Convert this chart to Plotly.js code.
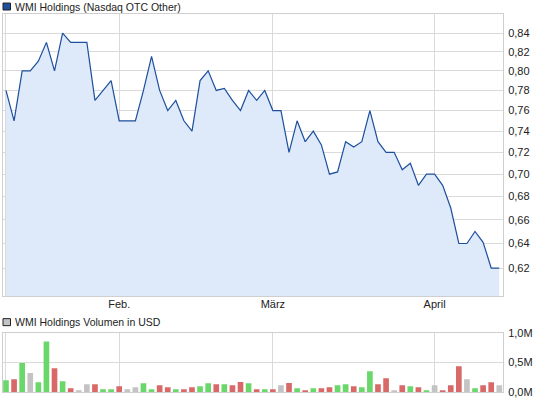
<!DOCTYPE html>
<html>
<head>
<meta charset="utf-8">
<script src="https://cdn.plot.ly/plotly-3.0.1.min.js"></script>
<style>
  body { margin: 0; background: #fff; }
  #chart { width: 545px; height: 401px; }
</style>
</head>
<body>
<div id="chart"></div>
<script>
const days = [
  '2013-01-11', '2013-01-14', '2013-01-15', '2013-01-16', '2013-01-17', '2013-01-18', '2013-01-22',
  '2013-01-23', '2013-01-24', '2013-01-25', '2013-01-28', '2013-01-29', '2013-01-30', '2013-01-31',
  '2013-02-01', '2013-02-04', '2013-02-05', '2013-02-06', '2013-02-07', '2013-02-08', '2013-02-11',
  '2013-02-12', '2013-02-13', '2013-02-14', '2013-02-15', '2013-02-19', '2013-02-20', '2013-02-21',
  '2013-02-22', '2013-02-25', '2013-02-26', '2013-02-27', '2013-02-28',
  '2013-03-01', '2013-03-04', '2013-03-05', '2013-03-06', '2013-03-07', '2013-03-08', '2013-03-11',
  '2013-03-12', '2013-03-13', '2013-03-14', '2013-03-15', '2013-03-18', '2013-03-19', '2013-03-20',
  '2013-03-21', '2013-03-22', '2013-03-25', '2013-03-26', '2013-03-27', '2013-03-28',
  '2013-04-01', '2013-04-02', '2013-04-03', '2013-04-04', '2013-04-05', '2013-04-08', '2013-04-09',
  '2013-04-10', '2013-04-11',
];

const price = [
  0.78, 0.75, 0.80, 0.80, 0.81, 0.83, 0.80, 0.84, 0.83, 0.83, 0.83, 0.77, 0.78, 0.79,
  0.75, 0.75, 0.75, 0.78, 0.815, 0.78, 0.76, 0.77, 0.75, 0.74, 0.79, 0.80, 0.78, 0.782,
  0.77, 0.76, 0.78, 0.77, 0.78,
  0.76, 0.76, 0.72, 0.75, 0.73, 0.74, 0.727, 0.70, 0.702, 0.73, 0.725, 0.73, 0.76, 0.73,
  0.72, 0.72, 0.704, 0.71, 0.69, 0.70,
  0.70, 0.69, 0.67, 0.64, 0.64, 0.65, 0.641, 0.62, 0.62,
];

const volume = [
  200000, 215000, 490000, 320000, 165000, 850000, 400000, 180000, 62000, 30000, 130000, 130000, 45000, 45000,
  96000, 45000, 80000, 147000, 45000, 113000, 80000, 45000, 45000, 80000, 96000, 147000, 130000, 130000,
  113000, 170000, 147000, 45000, 45000,
  45000, 113000, 150000, 62000, 30000, 62000, 62000, 80000, 113000, 130000, 96000, 80000, 350000, 130000,
  230000, 30000, 113000, 96000, 80000, 30000,
  113000, 30000, 113000, 435000, 215000, 62000, 113000, 164000, 113000,
];

const priceTicks = [0.62, 0.64, 0.66, 0.68, 0.70, 0.72, 0.74, 0.76, 0.78, 0.80, 0.82, 0.84];
const monthTicks = ['2013-01-11', '2013-02-01', '2013-03-01', '2013-04-01'];
const monthLabels = ['', 'Feb.', 'März', 'April'];
const volumeTicks = [0, 500000, 1000000];
const volumeLabels = ['0,0M', '0,5M', '1,0M'];

const UP = '#6ad76a';
const DOWN = '#d96868';
const FLAT = '#c3c3c3';

// bar colour follows the day's price move
const barColors = price.map((p, i) => {
  if (i === 0) return UP;
  if (p > price[i - 1]) return UP;
  if (p < price[i - 1]) return DOWN;
  return FLAT;
});

const font = {family: 'Liberation Sans, Arial, sans-serif', size: 11, color: '#222'};
const headFont = {family: 'Liberation Sans, Arial, sans-serif', size: 10.5, color: '#222'};
const gridColor = '#dadada';
const frameColor = '#cfcfcf';
const xRange = [-0.37, days.length - 1 + 0.46];

Plotly.newPlot('chart', [{
  x: days,
  y: price,
  type: 'scatter',
  mode: 'lines',
  line: {color: '#1c4f9c', width: 1.2},
  fill: 'tozeroy',
  fillcolor: '#dee9f9',
  xaxis: 'x',
  yaxis: 'y',
  hoverinfo: 'skip',
}, {
  x: days,
  y: volume,
  type: 'bar',
  marker: {color: barColors},
  xaxis: 'x2',
  yaxis: 'y2',
  hoverinfo: 'skip',
}], {
  width: 545,
  height: 401,
  margin: {l: 3, r: 42, t: 14, b: 9},
  paper_bgcolor: '#fff',
  plot_bgcolor: '#fff',
  showlegend: false,
  separators: ',.',
  font: font,
  bargap: 0.3,
  xaxis: {
    type: 'category',
    range: xRange,
    tickvals: monthTicks,
    ticktext: monthLabels,
    ticks: '',
    showgrid: true,
    gridcolor: gridColor,
    showline: true,
    linecolor: frameColor,
    mirror: true,
    anchor: 'y',
    tickfont: font,
    ticklabelstandoff: -2,
  },
  yaxis: {
    type: 'log',
    domain: [0.254, 1],
    range: [Math.log10(0.598), Math.log10(0.861)],
    side: 'right',
    tickvals: priceTicks,
    tickformat: '.2f',
    ticks: '',
    ticklabelstandoff: 2,
    showgrid: true,
    gridcolor: gridColor,
    showline: true,
    linecolor: frameColor,
    mirror: true,
    zeroline: false,
    tickfont: font,
  },
  xaxis2: {
    type: 'category',
    range: xRange,
    tickvals: monthTicks,
    showticklabels: false,
    ticks: '',
    showgrid: true,
    gridcolor: gridColor,
    showline: true,
    linecolor: frameColor,
    mirror: true,
    anchor: 'y2',
  },
  yaxis2: {
    domain: [0, 0.157],
    range: [0, 1000000],
    side: 'right',
    tickvals: volumeTicks,
    ticktext: volumeLabels,
    ticks: '',
    ticklabelstandoff: 2,
    showgrid: true,
    gridcolor: gridColor,
    showline: true,
    linecolor: frameColor,
    mirror: true,
    zeroline: false,
    tickfont: font,
  },
  shapes: [{
    type: 'rect', xref: 'paper', yref: 'paper',
    x0: 0, x1: 0.015, y0: 1.0105, y1: 1.029,
    fillcolor: '#1c4f9c', line: {color: '#222', width: 1},
  }, {
    type: 'rect', xref: 'paper', yref: 'paper',
    x0: 0, x1: 0.015, y0: 0.1755, y1: 0.194,
    fillcolor: '#c3c3c3', line: {color: '#222', width: 1},
  }],
  annotations: [{
    text: 'WMI Holdings (Nasdaq OTC Other)',
    xref: 'paper', yref: 'paper', x: 0.02, y: 1.0195,
    xanchor: 'left', yanchor: 'middle', showarrow: false, font: headFont,
  }, {
    text: 'WMI Holdings Volumen in USD',
    xref: 'paper', yref: 'paper', x: 0.02, y: 0.1848,
    xanchor: 'left', yanchor: 'middle', showarrow: false, font: headFont,
  }],
}, {displayModeBar: false, staticPlot: true});
</script>
</body>
</html>
